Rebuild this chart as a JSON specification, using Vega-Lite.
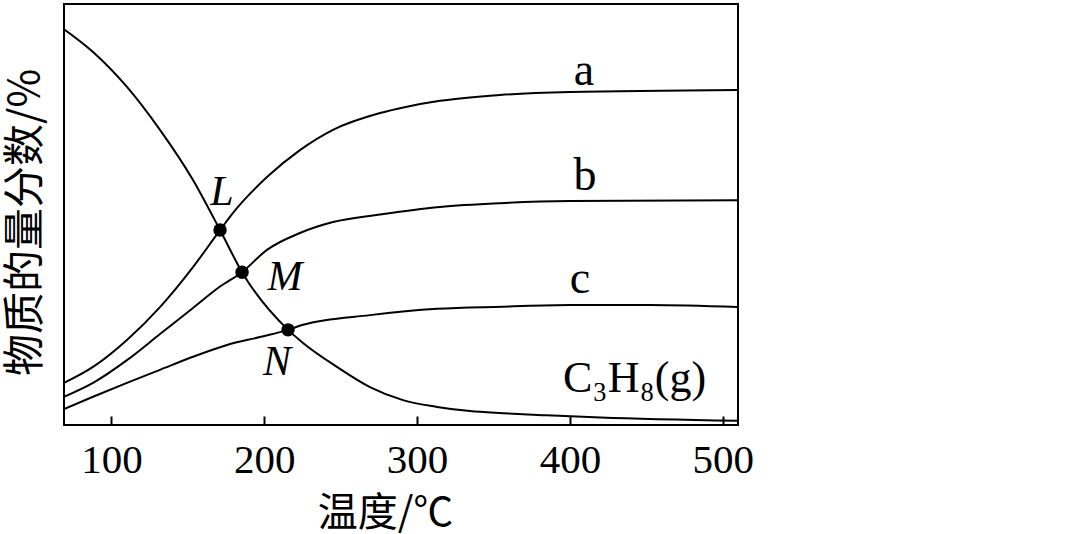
{
  "$schema": "https://vega.github.io/schema/vega-lite/v6.json",
  "description": "物质的量分数随温度变化曲线",
  "width": 674,
  "height": 421,
  "autosize": {"type": "none"},
  "padding": {"left": 64, "top": 4, "right": 340, "bottom": 109},
  "background": "white",
  "config": {
    "view": {"stroke": "black", "strokeWidth": 2},
    "font": "Liberation Serif"
  },
  "datasets": {
    "curves": [
      {"T": 69, "y": 94.0, "s": "C3H8"},
      {"T": 88.0, "y": 88.6, "s": "C3H8"},
      {"T": 110.2, "y": 80.3, "s": "C3H8"},
      {"T": 131.8, "y": 70.1, "s": "C3H8"},
      {"T": 153.4, "y": 58.2, "s": "C3H8"},
      {"T": 171.1, "y": 46.3, "s": "C3H8"},
      {"T": 185.5, "y": 36.3, "s": "C3H8"},
      {"T": 215.6, "y": 22.6, "s": "C3H8"},
      {"T": 225.4, "y": 19.5, "s": "C3H8"},
      {"T": 247.6, "y": 13.8, "s": "C3H8"},
      {"T": 269.2, "y": 9.0, "s": "C3H8"},
      {"T": 290.8, "y": 5.9, "s": "C3H8"},
      {"T": 313.1, "y": 4.3, "s": "C3H8"},
      {"T": 334.6, "y": 3.3, "s": "C3H8"},
      {"T": 356.2, "y": 2.8, "s": "C3H8"},
      {"T": 385.0, "y": 2.3, "s": "C3H8"},
      {"T": 420.0, "y": 1.8, "s": "C3H8"},
      {"T": 510, "y": 1.0, "s": "C3H8"},
      {"T": 69, "y": 10.0, "s": "a"},
      {"T": 88, "y": 13.8, "s": "a"},
      {"T": 110.2, "y": 20.2, "s": "a"},
      {"T": 131.8, "y": 28.0, "s": "a"},
      {"T": 153.4, "y": 37.5, "s": "a"},
      {"T": 171.1, "y": 46.3, "s": "a"},
      {"T": 179.6, "y": 50.4, "s": "a"},
      {"T": 201.8, "y": 58.9, "s": "a"},
      {"T": 223.4, "y": 65.3, "s": "a"},
      {"T": 245.0, "y": 70.1, "s": "a"},
      {"T": 275.8, "y": 74.1, "s": "a"},
      {"T": 293.4, "y": 75.6, "s": "a"},
      {"T": 315, "y": 77.0, "s": "a"},
      {"T": 354.3, "y": 78.4, "s": "a"},
      {"T": 400.1, "y": 79.1, "s": "a"},
      {"T": 510, "y": 79.6, "s": "a"},
      {"T": 69, "y": 6.7, "s": "b"},
      {"T": 88, "y": 10.0, "s": "b"},
      {"T": 110.2, "y": 15.4, "s": "b"},
      {"T": 131.8, "y": 21.6, "s": "b"},
      {"T": 153.4, "y": 27.8, "s": "b"},
      {"T": 171.1, "y": 32.9, "s": "b"},
      {"T": 185.5, "y": 36.3, "s": "b"},
      {"T": 201.8, "y": 41.6, "s": "b"},
      {"T": 223.4, "y": 45.6, "s": "b"},
      {"T": 245.0, "y": 48.2, "s": "b"},
      {"T": 275.8, "y": 50.0, "s": "b"},
      {"T": 315, "y": 51.8, "s": "b"},
      {"T": 354.3, "y": 52.7, "s": "b"},
      {"T": 400.1, "y": 53.2, "s": "b"},
      {"T": 510, "y": 53.4, "s": "b"},
      {"T": 69, "y": 3.8, "s": "c"},
      {"T": 88, "y": 6.7, "s": "c"},
      {"T": 110.2, "y": 10.0, "s": "c"},
      {"T": 131.8, "y": 13.1, "s": "c"},
      {"T": 153.4, "y": 16.2, "s": "c"},
      {"T": 175.7, "y": 19.0, "s": "c"},
      {"T": 197.2, "y": 20.9, "s": "c"},
      {"T": 215.6, "y": 22.6, "s": "c"},
      {"T": 225.4, "y": 23.8, "s": "c"},
      {"T": 269.2, "y": 26.1, "s": "c"},
      {"T": 313.1, "y": 27.6, "s": "c"},
      {"T": 356.2, "y": 28.1, "s": "c"},
      {"T": 400.1, "y": 28.5, "s": "c"},
      {"T": 452.4, "y": 28.5, "s": "c"},
      {"T": 510, "y": 28.0, "s": "c"}
    ],
    "points": [
      {"T": 171.1, "y": 46.3, "name": "L"},
      {"T": 185.5, "y": 36.3, "name": "M"},
      {"T": 215.6, "y": 22.6, "name": "N"}
    ],
    "labels": [
      {"T": 409.2, "y": 80.8, "text": "a", "kind": "curve"},
      {"T": 409.9, "y": 55.8, "text": "b", "kind": "curve"},
      {"T": 406.6, "y": 31.4, "text": "c", "kind": "curve"},
      {"T": 172.4, "y": 52.3, "text": "L", "kind": "point"},
      {"T": 213.6, "y": 32.1, "text": "M", "kind": "point"},
      {"T": 208.4, "y": 11.9, "text": "N", "kind": "point"},
      {"T": 395.5, "y": 7.8, "text": "C₃H₈(g)", "kind": "formula"}
    ]
  },
  "layer": [
    {
      "data": {"name": "curves"},
      "mark": {"type": "line", "interpolate": "monotone", "color": "black", "strokeWidth": 2, "clip": true},
      "encoding": {
        "x": {
          "field": "T",
          "type": "quantitative",
          "scale": {"domain": [69, 510], "nice": false, "zero": false},
          "axis": {
            "values": [100, 200, 300, 400, 500],
            "domain": false,
            "grid": false,
            "tickSize": -9,
            "tickWidth": 2,
            "tickColor": "black",
            "labelFont": "Liberation Serif",
            "labelFontSize": 41,
            "labelColor": "black",
            "labelBaseline": "alphabetic",
            "labelPadding": 56,
            "labelFlush": false,
            "title": "温度/℃",
            "titleFont": "Noto Sans CJK SC",
            "titleFontSize": 40,
            "titleFontWeight": "normal",
            "titleColor": "black",
            "titleX": 321,
            "titleY": 100,
            "titleAlign": "center",
            "titleBaseline": "alphabetic"
          }
        },
        "y": {
          "field": "y",
          "type": "quantitative",
          "scale": {"domain": [0, 100], "nice": false, "zero": false},
          "axis": {
            "domain": false,
            "grid": false,
            "ticks": false,
            "labels": false,
            "title": "物质的量分数/%",
            "titleFont": "Noto Sans CJK SC",
            "titleFontSize": 42,
            "titleFontWeight": "normal",
            "titleColor": "black",
            "titleAngle": -90,
            "titleX": -39,
            "titleY": 218,
            "titleAlign": "center",
            "titleBaseline": "middle"
          }
        },
        "detail": {"field": "s", "type": "nominal"}
      }
    },
    {
      "data": {"name": "points"},
      "mark": {"type": "point", "filled": true, "color": "black", "size": 180, "opacity": 1},
      "encoding": {
        "x": {"field": "T", "type": "quantitative"},
        "y": {"field": "y", "type": "quantitative"}
      }
    },
    {
      "data": {"name": "labels"},
      "transform": [{"filter": "datum.kind === 'curve'"}],
      "mark": {"type": "text", "font": "Liberation Serif", "fontSize": 46, "color": "black", "align": "center", "baseline": "alphabetic"},
      "encoding": {
        "x": {"field": "T", "type": "quantitative"},
        "y": {"field": "y", "type": "quantitative"},
        "text": {"field": "text"}
      }
    },
    {
      "data": {"name": "labels"},
      "transform": [{"filter": "datum.kind === 'point'"}],
      "mark": {"type": "text", "font": "Liberation Serif", "fontSize": 42, "fontStyle": "italic", "color": "black", "align": "center", "baseline": "alphabetic"},
      "encoding": {
        "x": {"field": "T", "type": "quantitative"},
        "y": {"field": "y", "type": "quantitative"},
        "text": {"field": "text"}
      }
    },
    {
      "data": {"name": "labels"},
      "transform": [{"filter": "datum.kind === 'formula'"}],
      "mark": {"type": "text", "font": "Liberation Serif", "fontSize": 44, "color": "black", "align": "left", "baseline": "alphabetic"},
      "encoding": {
        "x": {"field": "T", "type": "quantitative"},
        "y": {"field": "y", "type": "quantitative"},
        "text": {"field": "text"}
      }
    }
  ]
}
